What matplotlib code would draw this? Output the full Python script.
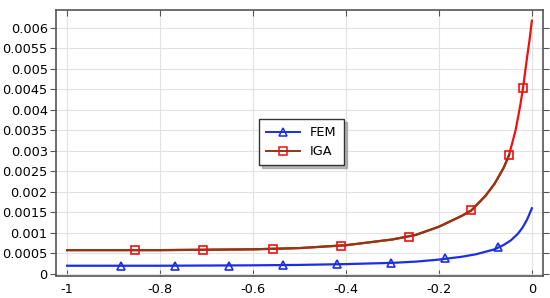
import numpy as np
import matplotlib.pyplot as plt
from matplotlib.ticker import FixedLocator

# curves
fem_x = [-1, -0.8, -0.6, -0.5, -0.4, -0.3, -0.25, -0.2, -0.15, -0.12, -0.1, -0.08,
         -0.06, -0.045, -0.03, -0.02, -0.01, 0]
fem_y = [0.0002, 0.0002, 0.00021, 0.00022, 0.00024, 0.00027, 0.0003, 0.00035, 0.00042,
         0.00048, 0.00054, 0.0006, 0.00071, 0.00082, 0.00098, 0.00113, 0.00133, 0.0016]
fem_mx = [-0.884, -0.768, -0.651, -0.535, -0.42, -0.304, -0.186, -0.072]
fem_my = [0.0002, 0.0002, 0.0002, 0.00021, 0.00024, 0.00027, 0.00038, 0.00065]

iga_x = [-1, -0.8, -0.6, -0.5, -0.4, -0.3, -0.25, -0.2, -0.15, -0.13, -0.1, -0.08,
         -0.06, -0.049, -0.035, -0.025, -0.019, -0.01, -0.005, 0]
iga_y = [0.00058, 0.00058, 0.0006, 0.00063, 0.0007, 0.00084, 0.00095, 0.00115, 0.00142,
         0.00155, 0.0019, 0.0022, 0.0026, 0.0029, 0.0035, 0.0041, 0.00453, 0.0053,
         0.0057, 0.00617]
iga_mx = [-0.854, -0.707, -0.558, -0.411, -0.265, -0.130, -0.049, -0.019]
iga_my = [0.00058, 0.00058, 0.00061, 0.00069, 0.00091, 0.00155, 0.0029, 0.00453]

xticks = [-1, -0.8, -0.6, -0.4, -0.2, 0]
xlabels = ['-1', '-0.8', '-0.6', '-0.4', '-0.2', '0']
yticks = [0, 0.0005, 0.001, 0.0015, 0.002, 0.0025, 0.003, 0.0035, 0.004, 0.0045,
          0.005, 0.0055, 0.006]
ylabels = ['0', '0.0005', '0.001', '0.0015', '0.002', '0.0025', '0.003', '0.0035',
           '0.004', '0.0045', '0.005', '0.0055', '0.006']

plt.rcParams['font.family'] = 'DejaVu Sans'
plt.rcParams['font.size'] = 9.3

fig = plt.figure(figsize=(5.5, 2.98), dpi=100)
ax = fig.add_axes([56 / 550, 1 - 276 / 298, 487 / 550, 266 / 298])

blue = '#1a2ee6'
red = '#ee1111'
brown = '#8b3a12'

ax.plot(fem_x, fem_y, color=blue, lw=1.6, zorder=3)
ax.plot(fem_mx, fem_my, ls='none', marker='^', ms=6, mfc='none', mec=blue, mew=1.2, zorder=4)

ax.plot(iga_x, iga_y, color=red, lw=1.6, zorder=3)
n_brown = iga_x.index(-0.049) + 1
ax.plot(iga_x[:n_brown], iga_y[:n_brown], color=brown, lw=1.6, zorder=3)
ax.plot(iga_mx, iga_my, ls='none', marker='s', ms=6, mfc='none', mec=red, mew=1.2, zorder=4)

# legend proxies
h1, = ax.plot([], [], color=blue, lw=1.4, marker='^', ms=6, mfc='none', mec=blue, mew=1.1)
h2, = ax.plot([], [], color=brown, lw=1.4, marker='s', ms=6, mfc='none', mec=red, mew=1.1)
leg = ax.legend([h1, h2], ['FEM', 'IGA'], loc='upper left', bbox_to_anchor=(0.417, 0.589),
                borderaxespad=0, fancybox=False,
                shadow={'ox': 2, 'oy': -2, 'color': '0.55', 'alpha': 0.6}, framealpha=1,
                edgecolor='#333333', handlelength=2.6, borderpad=0.55,
                labelspacing=0.45, fontsize=9.3)
leg.get_frame().set_linewidth(1.0)

ax.set_xlim(-1.024, 0.024)
ax.set_ylim(-0.00005, 0.00643)
ax.xaxis.set_major_locator(FixedLocator(xticks))
ax.set_xticklabels(xlabels)
ax.yaxis.set_major_locator(FixedLocator(yticks))
ax.set_yticklabels(ylabels)

ax.grid(True, color='#e2e2e2', lw=0.8)
ax.set_axisbelow(True)
for s in ax.spines.values():
    s.set_color('#555555')
    s.set_linewidth(1.2)

ax.tick_params(axis='y', direction='out', length=4, color='#555555', right=True, pad=2)
ax.tick_params(axis='x', direction='in', length=4, color='#555555', top=True, pad=5)

fig.savefig('out.png', dpi=100)
